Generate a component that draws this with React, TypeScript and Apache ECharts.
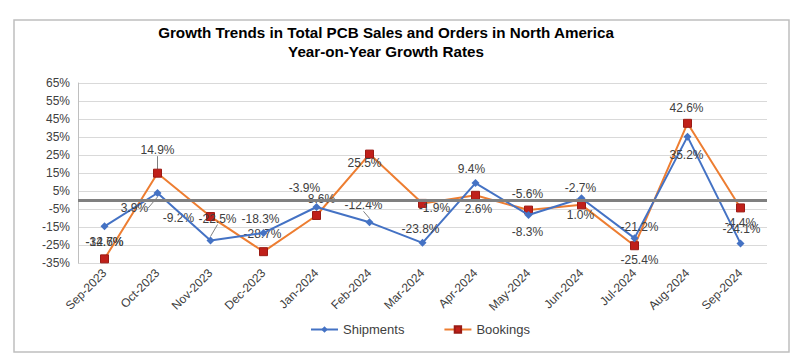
import React, { useEffect, useRef } from "react";
import * as echarts from "echarts";

const categories = [
  "Sep-2023", "Oct-2023", "Nov-2023", "Dec-2023", "Jan-2024", "Feb-2024", "Mar-2024",
  "Apr-2024", "May-2024", "Jun-2024", "Jul-2024", "Aug-2024", "Sep-2024",
];
const shipments = [-14.6, 3.9, -22.5, -18.3, -3.9, -12.4, -23.8, 9.4, -8.3, 1.0, -21.2, 35.2, -24.1];
const bookings = [-32.7, 14.9, -9.2, -28.7, -8.6, 25.5, -1.9, 2.6, -5.6, -2.7, -25.4, 42.6, -4.4];
const yMin = -35;
const yMax = 65;
const yStep = 10;

// label placement (layout only)
const shipOffsets: number[][] = [
  [0, 16], [-23, 15], [7, -22], [-3, -14], [-12, -19], [-6, -17], [-2, -14],
  [-4, -14], [-1, 17], [-1, 17], [5, -11], [-1, 18], [1, -14],
];
const bookOffsets: number[][] = [
  [0, -17], [0, -23], [-32, 1], [-1, -18], [3, -16], [-5, 9], [12, 5],
  [3, 14], [-1, -16], [-1, -17], [5, 14], [-1, -15], [0, 15],
];
const shipLeader = [1, 2, 5];
const bookLeader = [1];

const FONT = "Liberation Sans, Arial, sans-serif";

function buildData(vals: number[], leaders: number[]) {
  return vals.map((v, i) => ({
    value: v,
    labelLine: { show: leaders.includes(i) },
  }));
}

export default function App() {
  const ref = useRef<HTMLDivElement>(null);
  useEffect(() => {
    document.body.style.margin = "0";
    const chart = echarts.init(ref.current!, undefined, { renderer: "svg" });
    const labelCommon = {
      show: true,
      position: "inside" as const,
      fontSize: 12,
      fontFamily: FONT,
      color: "#404040",
      formatter: (p: any) => p.value.toFixed(1) + "%",
    };
    chart.setOption({
      animation: false,
      backgroundColor: "#fff",
      textStyle: { fontFamily: FONT },
      graphic: [
        {
          type: "rect",
          shape: { x: 14, y: 20, width: 775, height: 332 },
          style: { fill: "none", stroke: "#bfbfbf", lineWidth: 1.5 },
          silent: true,
        },
        {
          type: "text",
          x: 386,
          y: 32,
          style: {
            text: "Growth Trends in Total PCB Sales and Orders in North America",
            fontSize: 15.2,
            fontWeight: "bold",
            fontFamily: FONT,
            fill: "#000",
            align: "center",
            verticalAlign: "middle",
          },
        },
        {
          type: "text",
          x: 386,
          y: 51,
          style: {
            text: "Year-on-Year Growth Rates",
            fontSize: 15.2,
            fontWeight: "bold",
            fontFamily: FONT,
            fill: "#000",
            align: "center",
            verticalAlign: "middle",
          },
        },
      ],
      grid: { left: 78, right: 33, top: 83, bottom: 97, containLabel: false },
      legend: {
        left: 305,
        top: 318,
        itemWidth: 27,
        itemHeight: 8,
        itemGap: 39,
        textStyle: { fontSize: 13, color: "#404040", fontFamily: FONT },
        data: ["Shipments", "Bookings"],
      },
      xAxis: {
        type: "category",
        data: categories,
        boundaryGap: true,
        axisLine: { show: false },
        axisTick: { show: false },
        axisLabel: {
          rotate: 45,
          fontSize: 12,
          color: "#404040",
          margin: 8,
          interval: 0,
          fontFamily: FONT,
        },
      },
      yAxis: {
        type: "value",
        min: yMin,
        max: yMax,
        interval: yStep,
        axisLine: { show: true, lineStyle: { color: "#bfbfbf", width: 1 } },
        axisTick: { show: false },
        splitLine: { lineStyle: { color: "#d9d9d9", width: 1 } },
        axisLabel: {
          formatter: (v: number) => v + "%",
          fontSize: 12,
          color: "#404040",
          margin: 8,
          fontFamily: FONT,
        },
      },
      series: [
        {
          name: "Shipments",
          type: "line",
          data: buildData(shipments, shipLeader),
          symbol: "diamond",
          symbolSize: 8,
          itemStyle: { color: "#4472C4" },
          lineStyle: { color: "#4472C4", width: 2 },
          z: 3,
          label: labelCommon,
          labelLine: { show: false, lineStyle: { color: "#7f7f7f", width: 1 } },
          labelLayout: (p: any) => ({
            dx: shipOffsets[p.dataIndex][0],
            dy: shipOffsets[p.dataIndex][1],
          }),
          markLine: {
            silent: true,
            symbol: "none",
            label: { show: false },
            lineStyle: { color: "#808080", width: 3, type: "solid" },
            data: [{ yAxis: 0 }],
          },
        },
        {
          name: "Bookings",
          type: "line",
          data: buildData(bookings, bookLeader),
          symbol: "rect",
          symbolSize: 8,
          itemStyle: { color: "#C0201A", borderColor: "#9B1B14", borderWidth: 1 },
          lineStyle: { color: "#ED7D31", width: 2 },
          z: 2,
          label: labelCommon,
          labelLine: { show: false, lineStyle: { color: "#7f7f7f", width: 1 } },
          labelLayout: (p: any) => ({
            dx: bookOffsets[p.dataIndex][0],
            dy: bookOffsets[p.dataIndex][1],
          }),
        },
      ],
    });
    return () => chart.dispose();
  }, []);
  return <div ref={ref} style={{ width: 800, height: 360 }} />;
}
